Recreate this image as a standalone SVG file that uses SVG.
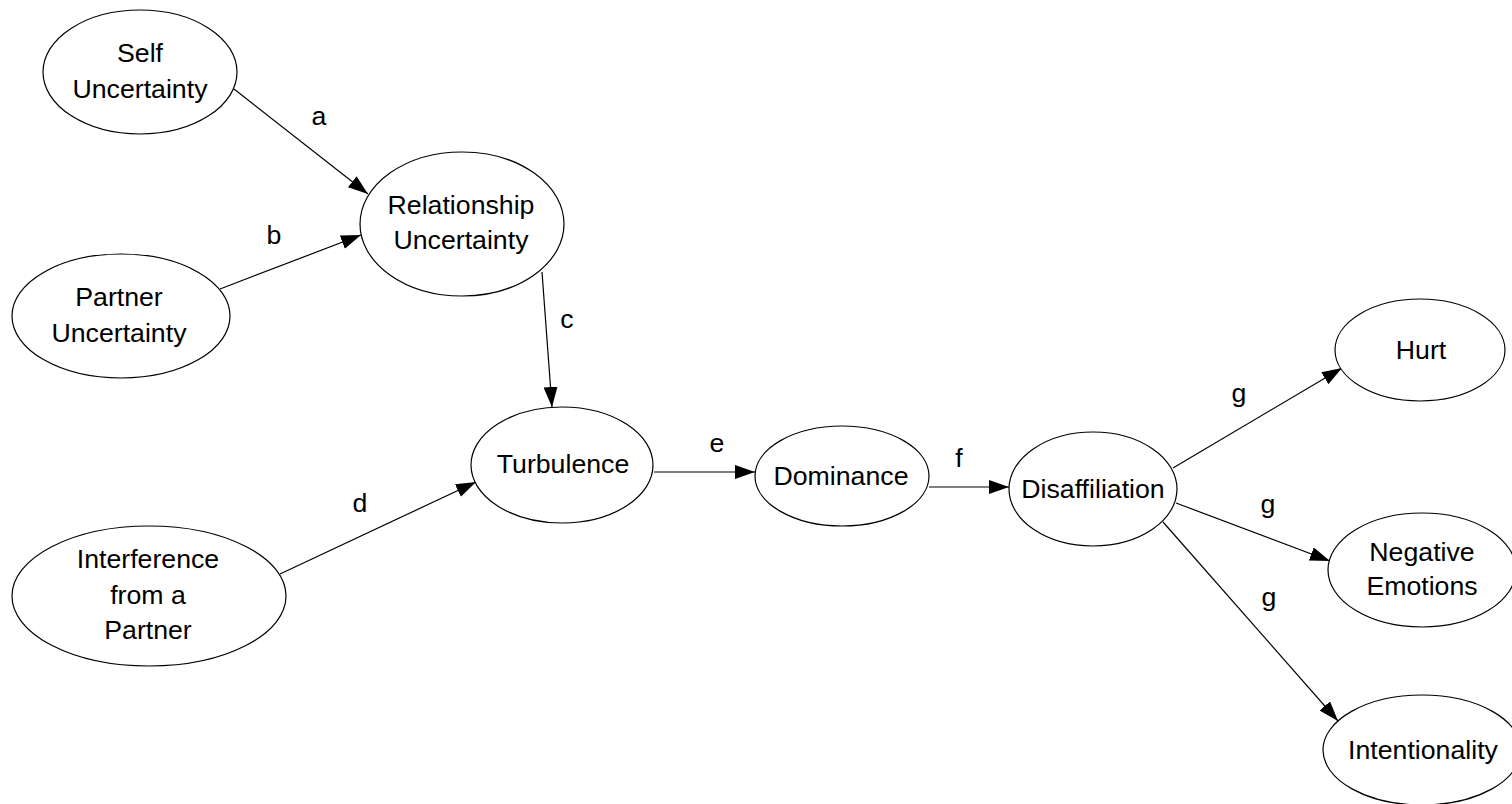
<svg xmlns="http://www.w3.org/2000/svg" width="1512" height="804" viewBox="0 0 1512 804">
<style>
.node ellipse{fill:#fff;stroke:#000;stroke-width:1.2}
.node text,.lbl{font-family:"Liberation Sans",Arial,sans-serif;font-size:26.7px;fill:#000;text-anchor:middle}
.edge{stroke:#000;stroke-width:1.2;fill:none;marker-end:url(#ah)}
</style>
<defs>
<marker id="ah" markerUnits="userSpaceOnUse" markerWidth="22" markerHeight="16" refX="20" refY="7" orient="auto">
<path d="M0,0 L20,7 L0,14 z" fill="#000"/>
</marker>
</defs>
<rect width="1512" height="804" fill="#fff"/>
<g id="connectors">
<line class="edge" x1="234" y1="89" x2="368" y2="194"/>
<line class="edge" x1="220" y1="289" x2="361" y2="235"/>
<line class="edge" x1="542" y1="272" x2="552" y2="407"/>
<line class="edge" x1="280" y1="574" x2="476" y2="482"/>
<line class="edge" x1="654" y1="472" x2="755" y2="472"/>
<line class="edge" x1="929" y1="487" x2="1009" y2="487"/>
<line class="edge" x1="1173" y1="468" x2="1342" y2="368"/>
<line class="edge" x1="1176" y1="503" x2="1330" y2="561"/>
<line class="edge" x1="1163" y1="522" x2="1338" y2="721"/>
<text class="lbl" x="319" y="125">a</text>
<text class="lbl" x="274" y="244">b</text>
<text class="lbl" x="567" y="328">c</text>
<text class="lbl" x="360" y="512">d</text>
<text class="lbl" x="717" y="452">e</text>
<text class="lbl" x="959" y="467">f</text>
<text class="lbl" x="1239" y="402">g</text>
<text class="lbl" x="1268" y="513">g</text>
<text class="lbl" x="1269" y="606">g</text>
</g>
<g id="self-uncertainty" class="node">
<ellipse cx="140" cy="72" rx="97" ry="62"/>
<text x="140" y="62">Self</text>
<text x="140" y="98">Uncertainty</text>
</g>
<g id="relationship-uncertainty" class="node">
<ellipse cx="462" cy="224" rx="102" ry="72"/>
<text x="461" y="214">Relationship</text>
<text x="461" y="249">Uncertainty</text>
</g>
<g id="partner-uncertainty" class="node">
<ellipse cx="121" cy="316" rx="109" ry="62"/>
<text x="119" y="306">Partner</text>
<text x="119" y="342">Uncertainty</text>
</g>
<g id="turbulence" class="node">
<ellipse cx="562" cy="465" rx="91" ry="58"/>
<text x="563" y="473">Turbulence</text>
</g>
<g id="interference" class="node">
<ellipse cx="149" cy="596" rx="137" ry="70"/>
<text x="148" y="568">Interference</text>
<text x="148" y="604">from a</text>
<text x="148" y="639">Partner</text>
</g>
<g id="dominance" class="node">
<ellipse cx="842" cy="476" rx="87" ry="50"/>
<text x="841" y="485">Dominance</text>
</g>
<g id="disaffiliation" class="node">
<ellipse cx="1093" cy="489" rx="84" ry="57"/>
<text x="1093" y="498">Disaffiliation</text>
</g>
<g id="hurt" class="node">
<ellipse cx="1420" cy="350" rx="85" ry="51"/>
<text x="1421" y="359">Hurt</text>
</g>
<g id="negative-emotions" class="node">
<ellipse cx="1422" cy="570" rx="94" ry="57"/>
<text x="1422" y="561">Negative</text>
<text x="1422" y="595">Emotions</text>
</g>
<g id="intentionality" class="node">
<ellipse cx="1422" cy="750" rx="99" ry="55"/>
<text x="1423" y="759">Intentionality</text>
</g>
</svg>
